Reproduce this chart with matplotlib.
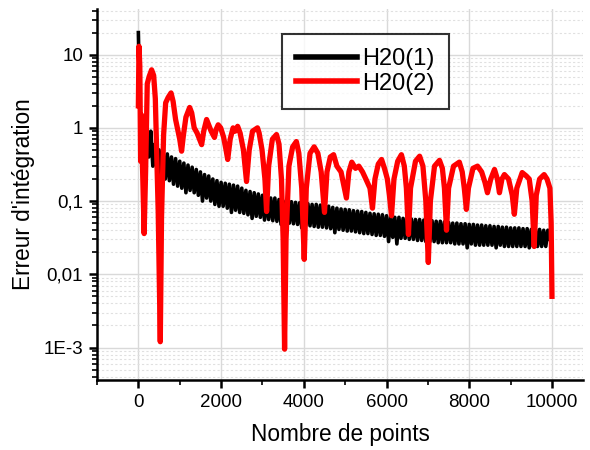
"""
plot.py - Erreur d'integration vs nombre de points (H20(1), H20(2)).
"""

import matplotlib

matplotlib.use("Agg")
import matplotlib.pyplot as plt
from matplotlib.ticker import FixedLocator, LogLocator, NullFormatter, MultipleLocator
import numpy as np


plt.rcParams["font.family"] = ["Liberation Sans", "DejaVu Sans"]

GRID_MAJOR = "#d9d9d9"
GRID_MINOR = "#e0e0e0"

# H20(1): start of the curve, then the noisy band read as upper / lower edges
x_h1_start = [0, 40]
y_h1_start = [20, 1.5]
x_h1_top = np.arange(100, 10000, 100)
y_h1_top = [1.3, 1.1, 0.9, 0.6, 0.5, 0.47, 0.44, 0.4, 0.38, 0.35,
            0.33, 0.31, 0.29, 0.27, 0.25, 0.23, 0.22, 0.2, 0.19, 0.18,
            0.175, 0.17, 0.165, 0.16, 0.15, 0.14, 0.135, 0.13, 0.125, 0.12,
            0.115, 0.11, 0.11, 0.105, 0.1, 0.1, 0.098, 0.096, 0.095, 0.093,
            0.092, 0.09, 0.09, 0.088, 0.086, 0.085, 0.082, 0.08, 0.078, 0.077,
            0.076, 0.074, 0.073, 0.072, 0.07, 0.068, 0.067, 0.066, 0.065, 0.063,
            0.062, 0.06, 0.06, 0.058, 0.058, 0.057, 0.056, 0.056, 0.055, 0.054,
            0.054, 0.053, 0.053, 0.052, 0.051, 0.05, 0.05, 0.049, 0.049, 0.048,
            0.048, 0.047, 0.047, 0.046, 0.046, 0.045, 0.045, 0.044, 0.044, 0.043,
            0.043, 0.043, 0.042, 0.042, 0.041, 0.041, 0.041, 0.04, 0.04]
x_h1_bottom = np.arange(150, 9900, 100)
y_h1_bottom = [0.5, 0.4, 0.3, 0.26, 0.22, 0.2, 0.19, 0.17, 0.16, 0.15,
               0.13, 0.14, 0.13, 0.12, 0.1, 0.11, 0.1, 0.09, 0.085, 0.085,
               0.08, 0.07, 0.075, 0.07, 0.068, 0.065, 0.058, 0.062, 0.06, 0.055,
               0.056, 0.054, 0.053, 0.048, 0.052, 0.05, 0.049, 0.048, 0.043, 0.047,
               0.046, 0.045, 0.044, 0.044, 0.043, 0.042, 0.037, 0.041, 0.04, 0.039,
               0.039, 0.038, 0.037, 0.036, 0.036, 0.035, 0.034, 0.034, 0.033, 0.028,
               0.032, 0.026, 0.031, 0.031, 0.03, 0.03, 0.029, 0.029, 0.028, 0.028,
               0.028, 0.027, 0.027, 0.027, 0.027, 0.026, 0.026, 0.026, 0.023, 0.026,
               0.025, 0.025, 0.025, 0.025, 0.025, 0.023, 0.025, 0.024, 0.024, 0.024,
               0.024, 0.024, 0.024, 0.023, 0.024, 0.024, 0.024, 0.024]
x_h1_end = [9920]
y_h1_end = [0.03]

# H20(2): oscillating error with sharp dips
x_h2 = [0, 15, 35, 55, 75, 100, 140, 175, 215, 260, 320, 370, 410, 450, 480, 530, 560, 610,
        660, 720, 790, 840, 900, 950, 1000, 1045, 1090, 1150, 1240, 1290, 1350, 1420, 1480,
        1530, 1580, 1650, 1700, 1760, 1840, 1880, 1930, 1990, 2060, 2120, 2160, 2220, 2290,
        2340, 2400, 2460, 2540, 2615, 2680, 2760, 2880, 2920, 2990, 3060, 3100, 3150, 3240,
        3340, 3400, 3460, 3500, 3535, 3570, 3640, 3730, 3820, 3880, 3950, 4010, 4060, 4150,
        4250, 4340, 4420, 4500, 4560, 4640, 4720, 4800, 4900, 4980, 5030, 5090, 5160, 5250,
        5330, 5420, 5500, 5600, 5660, 5720, 5800, 5880, 5950, 6020, 6070, 6120, 6180, 6270,
        6360, 6430, 6480, 6530, 6580, 6700, 6800, 6880, 6950, 7010, 7060, 7160, 7280, 7350,
        7400, 7450, 7500, 7620, 7760, 7830, 7880, 7930, 7980, 8090, 8200, 8300, 8380, 8440,
        8520, 8610, 8680, 8730, 8790, 8850, 8950, 9040, 9090, 9150, 9280, 9380, 9450, 9520,
        9570, 9620, 9700, 9810, 9880, 9950, 9980, 10000]
y_h2 = [2.0, 13, 7, 0.35, 1.5, 0.3, 0.036, 0.25, 4.0, 5.0, 6.2, 5.2, 2.5, 0.3, 0.07, 0.0012, 0.06, 0.8,
        2.2, 2.6, 3.0, 2.3, 1.3, 0.95, 0.7, 0.48, 0.8, 1.4, 1.9, 1.6, 1.0, 0.85, 0.7,
        0.59, 0.9, 1.3, 1.1, 0.9, 0.74, 0.95, 1.1, 1.0, 0.75, 0.5, 0.37, 0.7, 1.0,
        0.9, 1.05, 0.85, 0.5, 0.185, 0.5, 0.9, 1.0, 0.85, 0.5, 0.2, 0.072, 0.3, 0.7,
        0.81, 0.6, 0.2, 0.03, 0.00095, 0.03, 0.3, 0.55, 0.65, 0.45, 0.15, 0.016, 0.15, 0.45,
        0.55, 0.45, 0.25, 0.07, 0.25, 0.4, 0.43, 0.3, 0.25, 0.15, 0.11, 0.25, 0.34, 0.28,
        0.3, 0.25, 0.2, 0.15, 0.08, 0.2, 0.32, 0.37, 0.28, 0.2, 0.12, 0.063, 0.2, 0.35,
        0.43, 0.3, 0.15, 0.035, 0.15, 0.35, 0.41, 0.3, 0.1, 0.0145, 0.1, 0.3, 0.36, 0.28,
        0.15, 0.04, 0.15, 0.3, 0.34, 0.25, 0.15, 0.077, 0.15, 0.28, 0.3, 0.25, 0.18, 0.13,
        0.2, 0.27, 0.2, 0.13, 0.2, 0.23, 0.2, 0.12, 0.066, 0.15, 0.245, 0.22, 0.2, 0.1,
        0.024, 0.12, 0.2, 0.23, 0.2, 0.15, 0.05, 0.005]

y_ticks = [1e-3, 1e-2, 1e-1, 1, 10]
y_tick_labels = ["1E-3", "0,01", "0,1", "1", "10"]
x_ticks = [0, 2000, 4000, 6000, 8000, 10000]


def h1_path():
    # walk the band edge to edge so the thick line fills it like the noisy trace
    xs, ys = list(x_h1_start), list(y_h1_start)
    for i in range(len(x_h1_top)):
        xs.append(x_h1_top[i])
        ys.append(y_h1_top[i])
        if i < len(x_h1_bottom):
            xs.append(x_h1_bottom[i])
            ys.append(y_h1_bottom[i])
    return xs + x_h1_end, ys + y_h1_end


def main():
    fig = plt.figure(figsize=(5.9, 4.5), dpi=100, facecolor="white")
    ax = fig.add_axes([97 / 590, 1 - 380 / 450, 486 / 590, 371 / 450])

    xs, ys = h1_path()
    ax.plot(xs, ys, color="black", lw=2.6, label="H20(1)", zorder=3)
    ax.plot(x_h2, y_h2, color="#ff0000", lw=3.8, label="H20(2)", zorder=4)

    ax.set_yscale("log")
    ax.set_xlim(-1000, 10750)
    ax.set_ylim(3.6e-4, 42)

    ax.yaxis.set_major_locator(FixedLocator(y_ticks))
    ax.set_yticklabels(y_tick_labels)
    ax.yaxis.set_minor_locator(LogLocator(base=10, subs=np.arange(2, 10), numticks=20))
    ax.yaxis.set_minor_formatter(NullFormatter())
    ax.xaxis.set_major_locator(FixedLocator(x_ticks))
    ax.xaxis.set_minor_locator(MultipleLocator(1000))

    ax.grid(True, which="major", color=GRID_MAJOR, lw=1.0, ls="-", zorder=0)
    ax.grid(True, which="minor", axis="y", color=GRID_MINOR, lw=0.8, ls=(0, (2, 2)), zorder=0)
    ax.set_axisbelow(True)

    for side in ["top", "right"]:
        ax.spines[side].set_visible(False)
    for side in ["left", "bottom"]:
        ax.spines[side].set_linewidth(1.8)

    ax.tick_params(which="major", direction="out", length=6, width=1.8, labelsize=13.5, pad=4)
    ax.tick_params(which="minor", direction="out", length=3.5, width=1.2)

    ax.set_xlabel("Nombre de points", fontsize=16.3, labelpad=9)
    ax.set_ylabel("Erreur d'intégration", fontsize=16.3, labelpad=6)

    leg = ax.legend(
        loc="upper left",
        bbox_to_anchor=(0.381, 0.932),
        fontsize=17,
        frameon=True,
        fancybox=False,
        handlelength=2.55,
        handletextpad=0.25,
        borderpad=0.6,
        labelspacing=0.1,
        borderaxespad=0,
    )
    leg.get_frame().set_edgecolor("black")
    leg.get_frame().set_linewidth(1.5)
    for line in leg.get_lines():
        line.set_linewidth(4)

    fig.savefig("out.png", dpi=100, facecolor="white")


if __name__ == "__main__":
    main()
